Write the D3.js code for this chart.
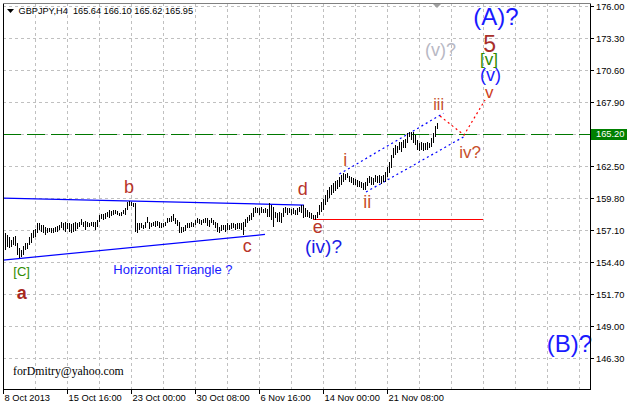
<!DOCTYPE html>
<html><head><meta charset="utf-8">
<script src="https://cdn.jsdelivr.net/npm/d3@7"></script>
<style>html,body{margin:0;padding:0;background:#fff;overflow:hidden}svg{display:block}</style>
</head><body>
<svg id="c" width="627" height="407"></svg>
<script>
// ---------------- DATA ----------------
const symbol = "GBPJPY,H4";
const lastOHLC = [165.64, 166.10, 165.62, 165.95];
const highs = [
156.82,156.65,156.48,156.23,156.48,156.57,155.98,155.56,155.39,155.72,
155.98,155.98,156.48,156.82,157.07,157.16,157.67,157.67,157.50,157.50,
157.33,157.24,157.24,157.24,157.24,157.33,157.41,157.50,157.75,157.67,
157.75,157.67,157.67,157.58,157.67,157.75,157.67,157.75,158.00,157.75,
157.83,157.75,157.67,157.75,157.75,157.75,157.92,158.34,158.42,158.42,
158.51,158.59,158.76,158.68,158.76,158.76,158.68,158.51,158.59,158.76,
158.93,159.44,159.52,159.44,159.35,159.35,157.67,157.67,157.67,157.50,
157.75,158.17,157.75,157.67,157.75,157.83,157.83,157.75,157.67,157.67,
157.75,158.09,158.09,158.26,158.42,158.09,157.92,157.75,157.33,157.33,
157.50,157.67,157.67,157.75,157.67,157.92,158.09,158.00,157.92,158.00,
158.09,158.09,157.92,158.09,157.92,157.75,157.67,157.33,157.50,157.50,
157.50,157.67,157.50,157.67,157.67,157.58,157.67,157.67,157.67,157.75,
158.00,158.17,158.34,158.51,158.93,159.02,158.93,158.93,159.02,158.85,
158.93,158.85,159.35,159.18,159.02,158.59,158.51,158.59,158.51,158.93,
159.02,158.93,158.93,158.85,158.93,158.76,158.93,159.02,159.18,159.18,
158.93,158.76,158.59,158.51,158.34,158.34,158.59,159.18,159.44,159.69,
160.03,160.45,160.70,160.87,161.04,161.21,161.29,161.55,161.72,161.88,
161.80,161.88,161.63,161.55,161.46,161.38,161.29,161.21,161.12,161.04,
161.12,161.46,161.63,161.55,161.46,161.72,161.63,161.72,161.63,161.72,
161.97,162.39,162.81,163.40,163.99,164.25,164.16,164.50,164.50,164.67,
164.75,165.26,165.34,165.34,165.34,165.09,164.67,164.42,164.50,164.42,
164.42,164.50,164.42,164.84,165.26,165.85,166.10];
const lows = [
155.39,155.64,155.56,155.64,155.81,155.72,154.97,154.71,154.80,154.97,
155.39,155.47,155.81,155.98,156.40,156.48,156.82,157.07,156.91,156.82,
156.65,156.82,156.91,156.82,156.82,156.91,156.91,157.07,157.24,157.07,
156.91,157.16,156.91,156.82,156.91,156.99,157.16,157.33,157.50,157.33,
157.07,157.33,157.33,157.41,157.33,157.07,157.33,157.75,158.00,157.92,
158.00,158.17,158.09,158.26,158.34,158.42,158.34,158.26,158.26,158.42,
158.34,158.76,159.10,159.10,159.02,156.91,156.82,157.07,157.24,157.16,
157.24,157.67,157.16,157.33,157.41,157.33,157.41,157.24,157.24,157.33,
157.41,157.67,157.75,157.75,157.83,157.58,157.41,156.82,156.82,156.91,
156.99,157.24,157.24,157.33,157.33,157.50,157.67,157.58,157.50,157.67,
157.67,157.41,157.33,157.67,157.50,157.24,156.91,156.82,156.99,157.07,
156.91,157.07,157.07,157.16,157.24,157.07,157.16,157.16,157.07,156.65,
157.33,157.67,157.83,157.92,158.17,158.51,158.51,158.34,158.51,158.51,
158.51,158.17,158.17,157.92,157.33,158.09,157.75,157.75,157.67,158.17,
158.51,158.34,158.51,158.34,158.42,158.34,158.34,158.59,158.51,158.09,
158.17,158.17,158.09,158.00,158.00,157.92,158.09,158.34,158.59,158.76,
159.18,159.44,159.77,160.03,160.20,160.37,160.53,160.70,160.87,161.12,
161.29,161.46,161.12,161.04,160.87,160.87,160.70,160.70,160.62,160.45,
160.45,160.79,161.04,160.87,160.87,161.12,161.04,161.04,160.96,161.12,
161.12,161.55,161.88,162.31,163.15,163.40,163.57,163.82,163.66,163.99,
163.99,164.42,164.92,164.67,164.42,164.25,163.82,163.74,163.82,163.74,
163.82,163.82,163.99,164.08,164.42,164.92,165.62];
const priceTicks = [146.30,149.00,151.70,154.40,157.10,159.80,162.50,165.20,167.90,170.60,173.30,176.00];
const dateLabels = ["8 Oct 2013","15 Oct 16:00","23 Oct 00:00","30 Oct 08:00","6 Nov 16:00","14 Nov 00:00","21 Nov 08:00"];
const hLinePrice = 165.20;
// drawn objects: [bar index, price]
const triUpper = [[0,159.77],[150.5,159.18]];
const triLower = [[0,154.54],[131,156.70]];
const eLevel   = [[155,158.00],[240,158.00]];
const chanUpper = [[168.2,161.80],[220.2,166.92]];
const chanLower = [[181.5,160.28],[231.5,165.05]];
const projPath  = [[218.5,166.69],[230.5,165.09],[241,168.04]];
// text objects: [text, bar index, price]
const waveLabels = [
 ["[C]",5.15,153.19],["a",6.85,151.25],["b",60.5,160.20],["c",119.85,155.26],
 ["d",147.35,160.03],["e",154.85,156.82],["(iv)?",151,155.16],
 ["Horizontal Triangle ?",55.15,153.36],
 ["i",170.15,162.47],["ii",180.15,158.93],["iii",215.15,167.20],["iv?",228.15,163.15],
 ["(v)?",211,171.76],["(A)?",235.15,174.37],["5",240.15,172.13],["[v]",238.5,171.00],
 ["(v)",238.5,169.65],["v",241,168.21],["(B)?",271.85,146.82]
];
const watermark = "forDmitry@yahoo.com";

// ---------------- STYLES ----------------
const labelStyle = {
 "[C]":{s:13,c:"#2e8b00"}, "a":{s:18,c:"#a8281e",w:"bold"}, "b":{s:18,c:"#b8352a"},
 "c":{s:18,c:"#b8352a"}, "d":{s:18,c:"#b8352a"}, "e":{s:18,c:"#b8352a"},
 "(iv)?":{s:19,c:"#1a1ae6"}, "Horizontal Triangle ?":{s:13,c:"#1a1aff"},
 "i":{s:18,c:"#c8502c"}, "ii":{s:18,c:"#c8502c"}, "iii":{s:16,c:"#c8502c"}, "iv?":{s:17,c:"#c8502c"},
 "(v)?":{s:18,c:"#b8b8c4"}, "(A)?":{s:24,c:"#1a1aff"}, "5":{s:23,c:"#a8302a"},
 "[v]":{s:17,c:"#2e8b00"}, "(v)":{s:18,c:"#1a1aff"}, "v":{s:17,c:"#d04020"}, "(B)?":{s:24,c:"#1a1aff"}
};

const svg = d3.select("#c");
const P = {l:3, r:590, t:3, b:389};
const x = d3.scaleLinear().domain([0,293.5]).range([P.l,P.r]);
const y = d3.scaleLinear().domain([143.66,176.23]).range([P.b,P.t]);
const px = v => Math.round(v)+0.5;

svg.append("rect").attr("width",627).attr("height",407).attr("fill","#fff");

// grid
const g = svg.append("g").attr("stroke","#c0c0c0").attr("stroke-dasharray","3,3").attr("shape-rendering","crispEdges");
priceTicks.forEach(p=>{
  g.append("line").attr("x1",P.l).attr("x2",P.r).attr("y1",px(y(p))).attr("y2",px(y(p)));
});
d3.range(16, 293, 16).forEach(i=>{
  g.append("line").attr("x1",px(x(i))).attr("x2",px(x(i))).attr("y1",P.t).attr("y2",P.b);
});

// horizontal price line
svg.append("line").attr("x1",P.l).attr("x2",P.r).attr("y1",px(y(hLinePrice))).attr("y2",px(y(hLinePrice)))
  .attr("stroke","#007800").attr("stroke-dasharray","18,6").attr("shape-rendering","crispEdges");

// drawn objects
const line = d3.line().x(d=>x(d[0])).y(d=>y(d[1]));
svg.append("path").attr("d",line(triUpper)).attr("fill","none").attr("stroke","#0000ff").attr("stroke-width",1.2);
svg.append("path").attr("d",line(triLower)).attr("fill","none").attr("stroke","#0000ff").attr("stroke-width",1.2);
svg.append("line").attr("x1",x(eLevel[0][0])).attr("x2",x(eLevel[1][0]))
  .attr("y1",px(y(eLevel[0][1]))).attr("y2",px(y(eLevel[1][1])))
  .attr("stroke","#ff0000").attr("stroke-width",1).attr("shape-rendering","crispEdges");
svg.append("path").attr("d",line(chanUpper)).attr("fill","none").attr("stroke","#0000ff").attr("stroke-width",1.2).attr("stroke-dasharray","2,3");
svg.append("path").attr("d",line(chanLower)).attr("fill","none").attr("stroke","#0000ff").attr("stroke-width",1.2).attr("stroke-dasharray","2,3");
svg.append("path").attr("d",line(projPath)).attr("fill","none").attr("stroke","#ff0000").attr("stroke-width",1.2).attr("stroke-dasharray","2,3");

// bars
svg.append("g").attr("stroke","#000").attr("shape-rendering","crispEdges")
 .selectAll("line").data(highs.map((h,k)=>({i:k+1,h,l:lows[k]}))).join("line")
 .attr("x1",d=>px(x(d.i))).attr("x2",d=>px(x(d.i)))
 .attr("y1",d=>Math.round(y(d.h))).attr("y2",d=>Math.max(Math.round(y(d.l)),Math.round(y(d.h))+1));

// labels
svg.append("g").selectAll("text").data(waveLabels).join("text")
 .attr("x",d=>x(d[1])).attr("y",d=>y(d[2]))
 .attr("font-family","Liberation Sans, Arial, sans-serif")
 .attr("font-size",d=>labelStyle[d[0]].s).attr("font-weight",d=>labelStyle[d[0]].w||"normal")
 .attr("fill",d=>labelStyle[d[0]].c).text(d=>d[0]);

// frame
const fr = svg.append("g").attr("stroke","#000").attr("shape-rendering","crispEdges");
fr.append("line").attr("x1",P.l+0.5).attr("x2",P.l+0.5).attr("y1",P.t).attr("y2",P.b+1);
fr.append("line").attr("x1",P.l).attr("x2",P.r+1).attr("y1",P.b+0.5).attr("y2",P.b+0.5);
fr.append("line").attr("x1",P.r+0.5).attr("x2",P.r+0.5).attr("y1",P.t).attr("y2",P.b+1);
fr.append("line").attr("x1",P.l).attr("x2",P.r+1).attr("y1",P.t+0.5).attr("y2",P.t+0.5).attr("stroke","#808080");

// price axis
const ay = svg.append("g");
priceTicks.forEach(p=>{
  const yy = px(y(p));
  ay.append("line").attr("x1",P.r).attr("x2",P.r+4).attr("y1",yy).attr("y2",yy).attr("stroke","#000").attr("shape-rendering","crispEdges");
  ay.append("text").attr("x",P.r+6).attr("y",yy).attr("dy","0.35em")
    .attr("font-family","Liberation Sans, Arial, sans-serif").attr("font-size",9.3).attr("fill","#000").text(p.toFixed(2));
});
const yl = y(hLinePrice);
ay.append("rect").attr("x",P.r+1).attr("y",Math.round(yl)-5).attr("width",627-P.r-1).attr("height",11).attr("fill","#008000");
ay.append("text").attr("x",P.r+6).attr("y",yl).attr("dy","0.35em").attr("font-family","Liberation Sans, Arial, sans-serif")
  .attr("font-size",9.3).attr("fill","#fff").text(hLinePrice.toFixed(2));

// time axis
const ax = svg.append("g");
dateLabels.forEach((t,k)=>{
  const xx = px(x(k*32));
  ax.append("line").attr("x1",xx).attr("x2",xx).attr("y1",P.b).attr("y2",P.b+5).attr("stroke","#000").attr("shape-rendering","crispEdges");
  ax.append("text").attr("x",xx+1).attr("y",P.b+11.5).attr("font-family","Liberation Sans, Arial, sans-serif")
    .attr("font-size",9.3).attr("fill","#000").text(t);
});

// title
svg.append("path").attr("d",`M${P.l+4},${P.t+6}h7l-3.5,4z`).attr("fill","#000");
svg.append("text").attr("x",P.l+15.5).attr("y",P.t+10.5).attr("font-family","Liberation Sans, Arial, sans-serif")
  .attr("font-size",9.2).attr("fill","#000").style("white-space","pre")
  .text(symbol+"  "+lastOHLC.map(v=>v.toFixed(2)).join(" "));
const sx = x(highs.length);
svg.append("path").attr("d",`M${sx-4},${P.t+1}h8l-4,4z`).attr("fill","#a0a0a0");
svg.append("text").attr("x",P.l+10).attr("y",P.b-14.5).attr("font-family","Liberation Serif, Times New Roman, serif")
  .attr("font-size",11.8).attr("fill","#000").text(watermark);
</script>
</body></html>
